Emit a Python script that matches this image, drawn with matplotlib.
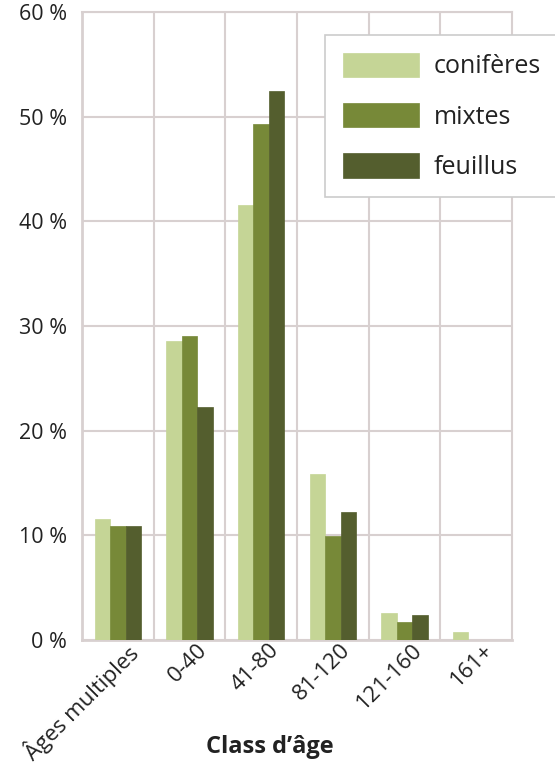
import numpy as np
import matplotlib
matplotlib.use("Agg")
import matplotlib.pyplot as plt
from matplotlib.transforms import ScaledTranslation

plt.rcParams['font.family'] = ['Open Sans', 'DejaVu Sans']

categories = ["Âges multiples", "0-40", "41-80", "81-120", "121-160", "161+"]
coniferes = [11.6, 28.6, 41.6, 15.9, 2.6, 0.8]
mixtes = [10.9, 29.0, 49.3, 9.9, 1.7, 0.0]
feuillus = [10.9, 22.3, 52.5, 12.2, 2.4, 0.0]
series = [("conifères", coniferes, "#c5d596"),
          ("mixtes", mixtes, "#778938"),
          ("feuillus", feuillus, "#545e2e")]

grid_col = "#d8d0d0"
text_col = "#222222"

fig = plt.figure(figsize=(5.55, 7.67), dpi=100)
ax = fig.add_axes([82 / 555, 1 - 640 / 767, 430 / 555, 628 / 767])

x = np.arange(len(categories))
w = 0.216
for i, (name, vals, col) in enumerate(series):
    ax.bar(x + (i - 1) * w, vals, width=w, color=col, label=name,
           edgecolor=col, linewidth=0.5, zorder=3)

ax.set_xlim(-0.5, len(categories) - 0.5)
ax.set_ylim(0, 60)
ax.set_yticks(range(0, 61, 10))
ax.set_yticklabels([f"{v} %" for v in range(0, 61, 10)])
ax.set_xticks(x)
ax.set_xticklabels(categories, rotation=45, ha="right", rotation_mode="anchor")
ax.set_xticks(np.arange(0.5, len(categories) - 1, 1), minor=True)

ax.tick_params(axis="both", which="both", length=0, colors=text_col)
ax.tick_params(axis="y", labelsize=15.5, pad=11)
ax.tick_params(axis="x", labelsize=16, pad=0)
# rotated labels sit a little right of the group centre, as in the source
offset = ScaledTranslation(7 / 100, 0, fig.dpi_scale_trans)
for lbl in ax.get_xticklabels():
    lbl.set_transform(lbl.get_transform() + offset)

ax.grid(True, axis="y", which="major", color=grid_col, linewidth=1.5, zorder=0)
ax.grid(True, axis="x", which="minor", color=grid_col, linewidth=1.5, zorder=0)
ax.grid(False, axis="x", which="major")
for side in ["left", "right", "top", "bottom"]:
    ax.spines[side].set_color(grid_col)
    ax.spines[side].set_linewidth(1.5)
ax.spines["left"].set_linewidth(2)
ax.spines["bottom"].set_linewidth(2)

fig.text(270 / 555, 1 - 747 / 767, "Class d’âge", ha="center", va="center",
         fontsize=17, fontweight="bold", color=text_col)

leg = ax.legend(loc="upper left", bbox_to_anchor=(325 / 555, 1 - 35 / 767),
                bbox_transform=fig.transFigure, borderaxespad=0,
                fontsize=18, handlelength=3.05, handleheight=1.12,
                labelspacing=0.95, handletextpad=0.6, borderpad=0.7,
                fancybox=False, framealpha=1, edgecolor="#cccccc")
leg.get_frame().set_linewidth(1.2)
for t in leg.get_texts():
    t.set_color(text_col)

fig.savefig("out.png", dpi=100)
